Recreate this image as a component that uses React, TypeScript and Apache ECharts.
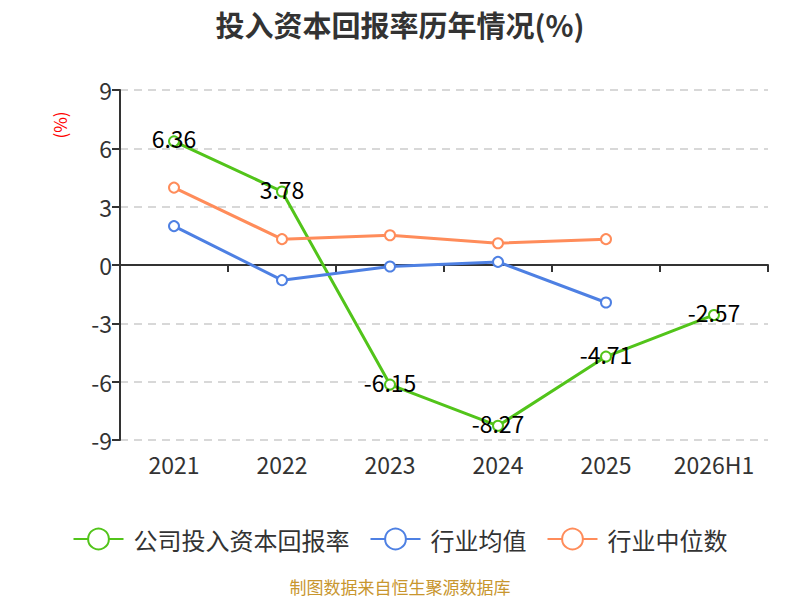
import React, { useEffect, useRef } from "react";
import * as echarts from "echarts";

const categories = ["2021", "2022", "2023", "2024", "2025", "2026H1"];
const companyValues = [6.36, 3.78, -6.15, -8.27, -4.71, -2.57];
const industryMean = [2.0, -0.78, -0.08, 0.16, -1.93];
const industryMedian = [3.98, 1.33, 1.53, 1.12, 1.33];
const yTicks = { min: -9, max: 9, interval: 3 };

const FONT = "'Noto Sans CJK SC', 'Noto Sans', sans-serif";

export default function App() {
  const ref = useRef<HTMLDivElement>(null);
  useEffect(() => {
    if (!ref.current) return;
    const chart = echarts.init(ref.current, null, { renderer: "svg" });
    const mkSeries = (name: string, data: number[], color: string, withLabel: boolean) => ({
      name,
      type: "line",
      data,
      xAxisIndex: 0,
      symbol: "emptyCircle",
      symbolSize: 10,
      showAllSymbol: true,
      lineStyle: { width: 3, color },
      itemStyle: { color, borderWidth: 2 },
      label: withLabel
        ? {
            show: true,
            position: "inside",
            offset: [0, -3],
            color: "#000",
            fontSize: 23,
            fontFamily: FONT,
          }
        : { show: false },
      emphasis: { disabled: true },
    });
    chart.setOption({
      animation: false,
      textStyle: { fontFamily: FONT },
      title: {
        text: "投入资本回报率历年情况(%)",
        left: "center",
        top: 4,
        textStyle: { fontSize: 29, fontWeight: "bold", color: "#333", fontFamily: FONT },
      },
      legend: {
        top: 522,
        left: "center",
        itemWidth: 50,
        itemHeight: 26,
        itemGap: 20,
        textStyle: { fontSize: 24, color: "#333", fontFamily: FONT, padding: [0, 0, 0, 5] },
        data: ["公司投入资本回报率", "行业均值", "行业中位数"],
      },
      grid: { left: 120, right: 32, top: 90, bottom: 160 },
      xAxis: [
        {
          type: "category",
          data: categories,
          position: "bottom",
          axisLine: { show: false, onZero: false },
          axisTick: { show: false },
          axisLabel: { fontSize: 23, color: "#333", margin: 12, fontFamily: FONT },
          splitLine: { show: false },
        },
        {
          type: "category",
          data: categories,
          position: "bottom",
          axisLine: { show: true, onZero: true, lineStyle: { color: "#333", width: 2 } },
          axisTick: { show: true, length: 7, lineStyle: { color: "#333", width: 2 } },
          axisLabel: { show: false },
          splitLine: { show: false },
        },
      ],
      yAxis: {
        type: "value",
        min: yTicks.min,
        max: yTicks.max,
        interval: yTicks.interval,
        axisLine: { show: true, lineStyle: { color: "#333", width: 2 } },
        axisTick: { show: true, length: 8, lineStyle: { color: "#333", width: 2 } },
        axisLabel: { fontSize: 23, color: "#333", margin: 8, fontFamily: FONT },
        splitLine: { show: true, lineStyle: { type: [8, 6], color: "#ccc", width: 1.5 } },
      },
      graphic: [
        {
          type: "text",
          x: 59,
          y: 125,
          rotation: Math.PI / 2,
          style: {
            text: "(%)",
            fill: "#ff0000",
            fontSize: 17,
            fontFamily: FONT,
            align: "center",
            verticalAlign: "middle",
          },
        },
        {
          type: "text",
          left: "center",
          top: 578,
          style: {
            text: "制图数据来自恒生聚源数据库",
            fill: "#C8962E",
            fontSize: 17,
            fontFamily: FONT,
          },
        },
      ],
      series: [
        mkSeries("公司投入资本回报率", companyValues, "#52C41A", true),
        mkSeries("行业均值", industryMean, "#4E80E3", false),
        mkSeries("行业中位数", industryMedian, "#FF8C5A", false),
      ],
    });
    return () => chart.dispose();
  }, []);
  return (
    <div
      ref={ref}
      style={{ position: "absolute", left: 0, top: 0, width: 800, height: 600 }}
    />
  );
}
